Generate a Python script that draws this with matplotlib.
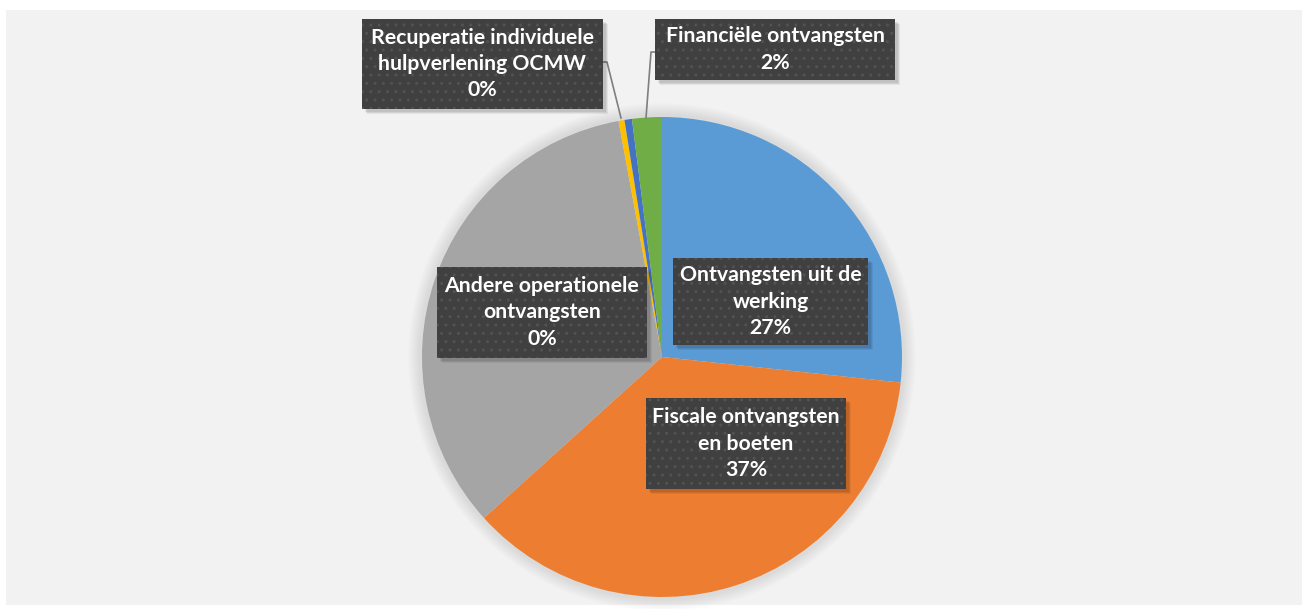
import matplotlib
matplotlib.use("Agg")
import matplotlib.pyplot as plt
from matplotlib.patches import Rectangle, Circle

matplotlib.rcParams["hatch.linewidth"] = 1.0

# ---- data ----
categories = ["Ontvangsten uit de werking", "Fiscale ontvangsten en boeten", "Overige",
              "Andere operationele ontvangsten", "Recuperatie individuele hulpverlening OCMW",
              "Financiële ontvangsten"]
shares = [26.7, 36.6, 33.8, 0.4, 0.5, 2.0]
colors = ["#5B9BD5", "#ED7D31", "#A5A5A5", "#FFC000", "#4472C4", "#70AD47"]
label_texts = ["Ontvangsten uit de\nwerking\n27%",
               "Fiscale ontvangsten\nen boeten\n37%",
               None,
               "Andere operationele\nontvangsten\n0%",
               "Recuperatie individuele\nhulpverlening OCMW\n0%",
               "Financiële ontvangsten\n2%"]

W, H = 1302, 609
fig = plt.figure(figsize=(W / 100, H / 100), dpi=100)
fig.patch.set_facecolor("white")
ax = fig.add_axes([0, 0, 1, 1])

def Y(py):
    return H - py

# chart area background
ax.add_patch(Rectangle((6, Y(605)), 1296, 595, facecolor="#F2F2F2", edgecolor="none", zorder=0))

cx, cy, R = 662, Y(357), 240
# soft glow around pie
for i in range(12):
    ax.add_patch(Circle((cx, cy), R + 14 - i, facecolor="#000000", alpha=0.006, edgecolor="none", zorder=1))

ax.pie(shares, colors=colors, startangle=90, counterclock=False, center=(cx, cy), radius=R,
       wedgeprops=dict(linewidth=0), frame=True)
ax.set_xlim(0, W)
ax.set_ylim(0, H)
ax.set_aspect("equal")
ax.axis("off")

# label boxes: (left, top, right, bottom) in pixel coords
boxes = {
    0: (673, 258, 868, 345),
    1: (646, 398, 846, 489),
    3: (437, 267, 647, 358),
    4: (362, 19, 603, 109),
    5: (655, 19, 895, 80),
}

# leader lines
ax.plot([603, 607, 621], [Y(62), Y(62), Y(118)], color="#7F7F7F", lw=1.2, zorder=3)
ax.plot([655, 651, 646], [Y(52), Y(52), Y(118)], color="#7F7F7F", lw=1.2, zorder=3)

for idx, (l, t, r, b) in boxes.items():
    w, h = r - l, b - t
    # shadow
    for k, a in [(5, 0.06), (4, 0.07), (3, 0.08)]:
        ax.add_patch(Rectangle((l + k, Y(b) - k), w, h, facecolor="black", alpha=a,
                               edgecolor="none", zorder=4))
    ax.add_patch(Rectangle((l, Y(b)), w, h, facecolor="#404040", edgecolor="#525252",
                           hatch="..", linewidth=0, zorder=5))
    ax.text((l + r) / 2, Y((t + b) / 2), label_texts[idx], ha="center", va="center",
            color="white", fontsize=15.3, fontweight="bold", family="Lato",
            linespacing=1.38, zorder=6)

fig.savefig("out.png", dpi=100, facecolor="white")
